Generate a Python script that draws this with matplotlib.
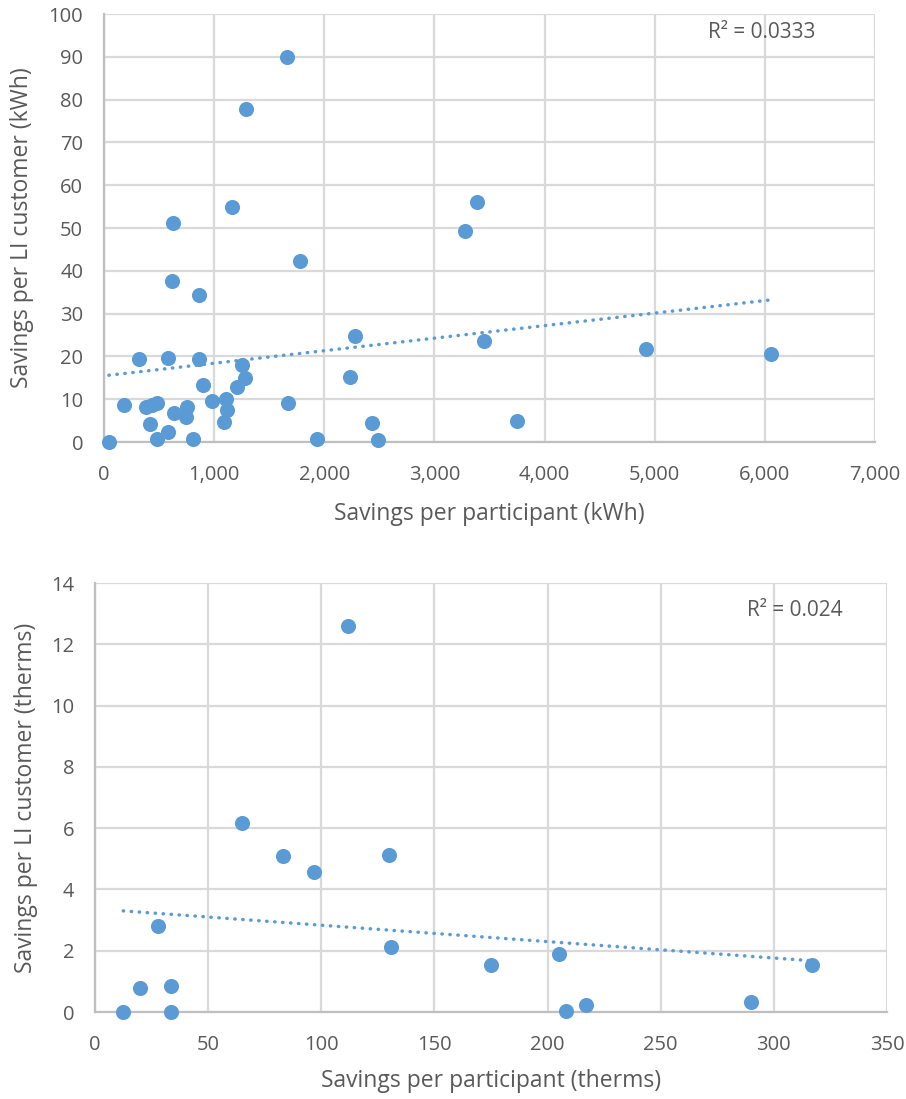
import matplotlib
matplotlib.use("Agg")
import matplotlib.pyplot as plt
import numpy as np
from matplotlib.ticker import FuncFormatter

plt.rcParams['font.family'] = ['Open Sans', 'DejaVu Sans']

# ---- Data: electric (kWh) ----
kwh_participant = [1661, 1289, 1162, 629, 1776, 614, 859, 3391, 3276, 2278, 3448,
                   315, 581, 859, 1255, 1276, 1207, 895, 2229, 185, 381, 433, 478,
                   977, 1104, 1113, 1092, 756, 638, 741, 417, 584, 478, 805, 45,
                   1673, 1930, 2429, 2486, 4925, 6053, 3754]
kwh_li_customer = [90.0, 77.8, 55.0, 51.1, 42.4, 37.6, 34.3, 56.0, 49.4, 24.8, 23.6,
                   19.5, 19.7, 19.5, 18.0, 14.9, 12.8, 13.4, 15.2, 8.6, 8.1, 8.6, 9.2,
                   9.6, 10.0, 7.5, 4.7, 8.1, 6.7, 5.9, 4.1, 2.3, 0.8, 0.8, 0.0,
                   9.2, 0.8, 4.4, 0.5, 21.7, 20.6, 5.0]
kwh_trend = (0.00293, 15.47)     # slope, intercept
kwh_r2_label = "R² = 0.0333"

# ---- Data: gas (therms) ----
therm_participant = [112, 65, 83, 97, 130, 28, 131, 175, 20, 33.5, 12.5, 33.5,
                     205, 208, 217, 290, 317]
therm_li_customer = [12.6, 6.17, 5.09, 4.58, 5.12, 2.81, 2.12, 1.53, 0.78, 0.86, 0.0, 0.0,
                     1.90, 0.03, 0.24, 0.33, 1.53]
therm_trend = (-0.00535, 3.367)
therm_r2_label = "R² = 0.024"

W, H = 906, 1099
fig = plt.figure(figsize=(W / 100, H / 100), dpi=100)

def axes_px(left, top, right, bottom):
    return fig.add_axes([left / W, 1 - bottom / H, (right - left) / W, (bottom - top) / H])

ax1 = axes_px(104, 14, 875, 442)
ax2 = axes_px(95, 583, 887, 1012)

blue = '#5B9BD5'
grid_c = '#D9D9D9'
text_c = '#595959'

def style(ax, xlim, xticks, ylim, yticks, xfmt, xlabel, ylabel, xlab_y, ylab_x):
    ax.set_xlim(*xlim)
    ax.set_ylim(*ylim)
    ax.set_xticks(xticks)
    ax.set_yticks(yticks)
    ax.xaxis.set_major_formatter(FuncFormatter(xfmt))
    ax.grid(True, color=grid_c, linewidth=1.6)
    ax.set_axisbelow(True)
    for s in ['top', 'right']:
        ax.spines[s].set_visible(False)
    for s in ['left', 'bottom']:
        ax.spines[s].set_color('#BFBFBF')
        ax.spines[s].set_linewidth(1.6)
    ax.tick_params(length=0, labelsize=14.5, colors=text_c)
    ax.tick_params(axis='x', pad=16.5)
    ax.tick_params(axis='y', pad=15)
    ax.set_xlabel(xlabel, fontsize=16.5, color=text_c)
    ax.set_ylabel(ylabel, fontsize=16.5, color=text_c)
    ax.xaxis.set_label_coords(0.5, xlab_y)
    ax.yaxis.set_label_coords(ylab_x, 0.5)

# Top chart
x1 = np.array(kwh_participant, dtype=float)
y1 = np.array(kwh_li_customer, dtype=float)
ax1.scatter(x1, y1, s=118, color=blue, zorder=3, linewidths=0, clip_on=False)
tx = np.array([x1.min(), x1.max()])
ax1.plot(tx, kwh_trend[0] * tx + kwh_trend[1], linestyle=(0, (0.1, 2.2)),
         dash_capstyle='round', color=blue, linewidth=2.5, zorder=2)
style(ax1, (0, 7000), np.arange(0, 7001, 1000), (0, 100), np.arange(0, 101, 10),
      lambda v, p: f"{int(v):,}", "Savings per participant (kWh)",
      "Savings per LI customer (kWh)", -(502 - 442) / 428, -(104 - 34) / 771)
fig.text(762 / W, 1 - 32 / H, kwh_r2_label, fontsize=15, color=text_c,
         ha='center', va='center')

# Bottom chart
x2 = np.array(therm_participant, dtype=float)
y2 = np.array(therm_li_customer, dtype=float)
ax2.scatter(x2, y2, s=118, color=blue, zorder=3, linewidths=0, clip_on=False)
tx2 = np.array([x2.min(), x2.max()])
ax2.plot(tx2, therm_trend[0] * tx2 + therm_trend[1], linestyle=(0, (0.1, 2.2)),
         dash_capstyle='round', color=blue, linewidth=2.5, zorder=2)
style(ax2, (0, 350), np.arange(0, 351, 50), (0, 14), np.arange(0, 15, 2),
      lambda v, p: f"{int(v)}", "Savings per participant (therms)",
      "Savings per LI customer (therms)", -(1069 - 1012) / 429, -(95 - 38) / 792)
fig.text(795 / W, 1 - 611 / H, therm_r2_label, fontsize=15, color=text_c,
         ha='center', va='center')

fig.savefig("out.png", dpi=100)
